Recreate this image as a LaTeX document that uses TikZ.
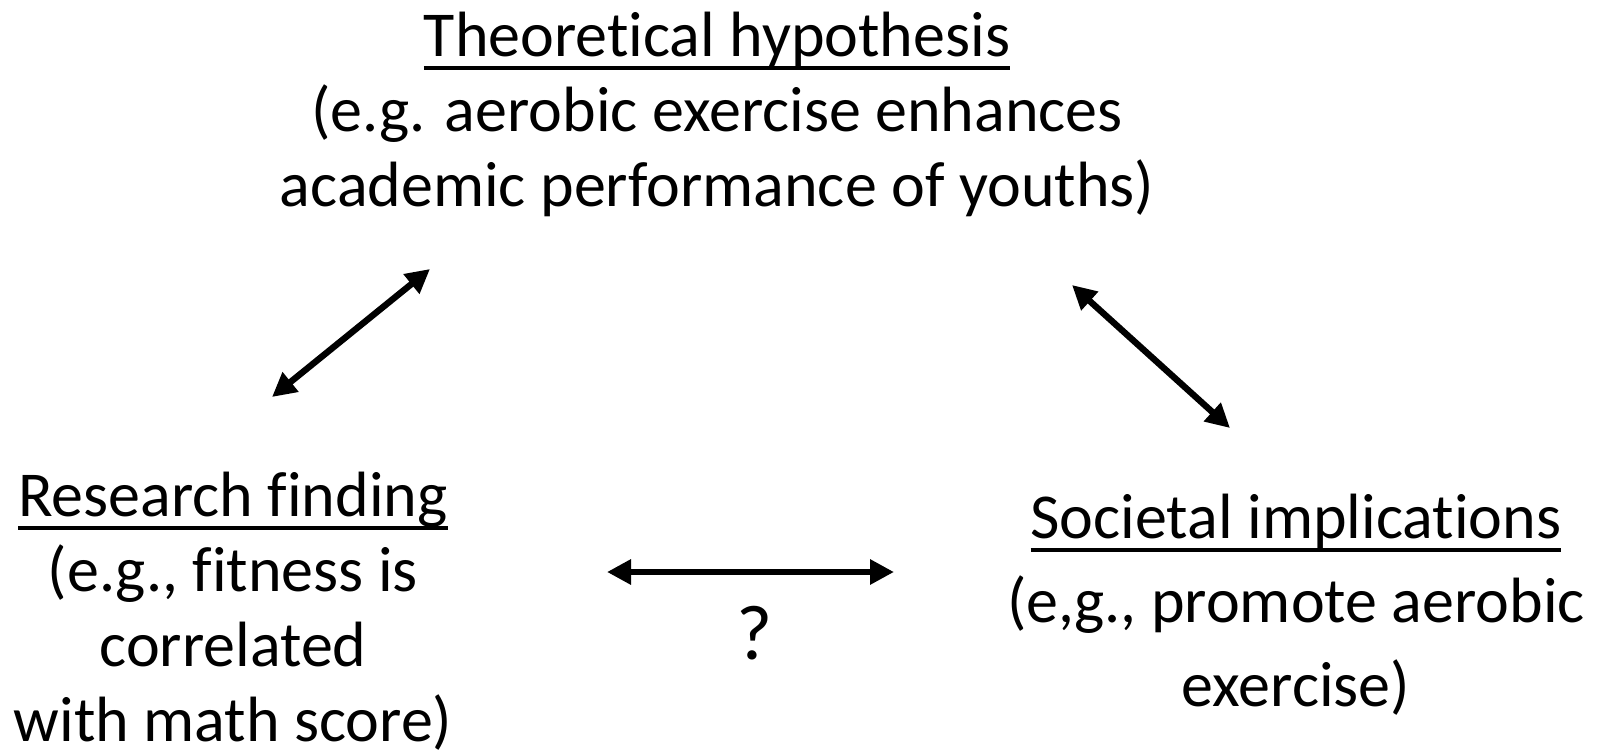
\documentclass[tikz,border=0pt]{standalone}
\usepackage{fontspec}
\setmainfont{Carlito}[Ligatures=NoCommon]
\usetikzlibrary{arrows.meta, positioning}
\newcommand{\headline}[1]{\leavevmode\setbox0=\hbox{#1}\rlap{\vrule width\wd0 height -4.4pt depth 6.4pt}\box0}
\tikzset{
  textblock/.style={
    align=center, inner sep=0pt, anchor=north,
    font=\fontsize{32}{37.5}\selectfont
  },
  linkline/.style={
    line width=3.2pt,
    {Triangle[length=12pt, width=12pt]}-{Triangle[length=12pt, width=12pt]}
  }
}
\begin{document}
\begin{tikzpicture}[x=0.5pt, y=-0.5pt]
  \useasboundingbox (0,0) rectangle (1606,755);

  % the three statements
  \node[textblock] (theory) at (717,12) {
    \headline{Theoretical hypothesis}\\
    (e.g. aerobic exercise enhances\\
    academic performance of youths)
  };
  \node[textblock] (finding) at (233,472) {
    \headline{Research finding}\\
    (e.g., fitness is\\
    correlated\\
    with math score)
  };
  \node[textblock, font=\fontsize{32}{42}\selectfont] (society) at (1296,494) {
    \headline{Societal implications}\\
    (e,g., promote aerobic\\
    exercise)
  };

  % arrow ends
  \coordinate (finding-up) at (272,397);
  \coordinate (theory-left) at (430,269);
  \coordinate (theory-right) at (1072,285);
  \coordinate (society-up) at (1230,428);
  \coordinate (finding-right) at (607,572);
  \coordinate (society-left) at (894,572);

  \draw[linkline] (finding-up) -- (theory-left);
  \draw[linkline] (theory-right) -- (society-up);
  \draw[linkline] (finding-right) -- (society-left);

  \node[font=\fontsize{39}{45}\selectfont, anchor=base] (query) at (755,659) {?};
\end{tikzpicture}
\end{document}
